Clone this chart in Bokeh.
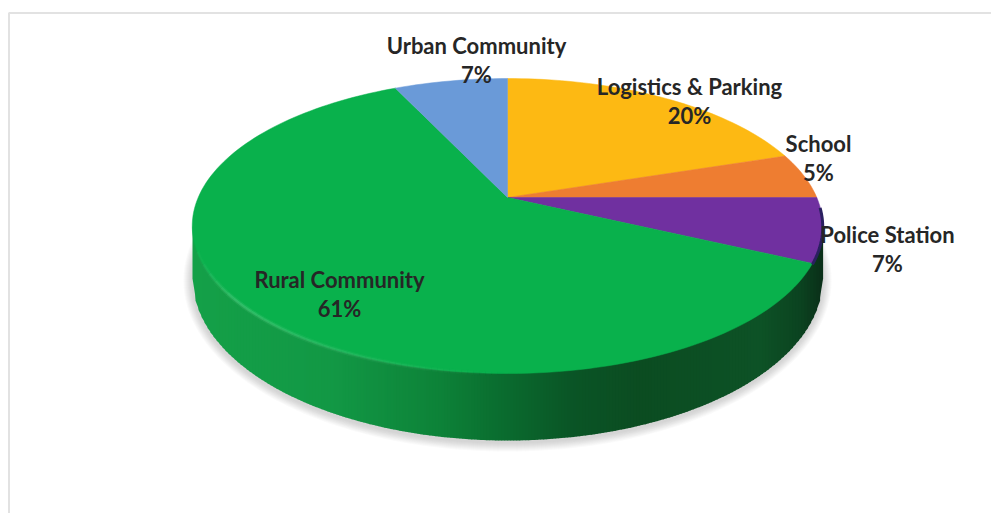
import math
from bokeh.plotting import figure
from bokeh.models import Range1d
from bokeh.core.properties import value
from bokeh.embed import file_html
from bokeh.resources import INLINE

categories = ["Logistics & Parking", "School", "Police Station", "Rural Community", "Urban Community"]
shares = [20, 5, 7, 61, 7]
colors = ["#FDB913", "#EE7D31", "#7030A0", "#09B14C", "#6A9AD8"]
label_xy = [(689, 86), (818, 143), (887, 234), (339, 279), (476, 45)]

W, H = 991, 513
p = figure(width=W, height=H, output_backend="svg", toolbar_location=None,
           x_range=Range1d(0, W), y_range=Range1d(H, 0), min_border=0,
           background_fill_color="white", border_fill_color="white")
p.axis.visible = False
p.grid.visible = False
p.outline_line_color = None

CX, APEX_Y = 507, 197
RX, TOP_CY, TOP_RY = 315, 225, 148
LOW_CY, LOW_RY = 278, 162
# projective mapping of the round pie to the tilted view
C = -57 / 295
A = 119 * (1 - C)
D = 309.3


def rim(theta_deg):
    t = math.radians(theta_deg)
    u, v = math.sin(t), -math.cos(t)
    den = 1 + C * v
    return CX + D * u / den, APEX_Y + A * v / den


def upper_y(x):
    s = max(0.0, 1 - ((x - CX) / RX) ** 2)
    return TOP_CY + TOP_RY * math.sqrt(s)


def lower_y(x):
    s = max(0.0, 1 - ((x - CX) / RX) ** 2)
    return LOW_CY + LOW_RY * math.sqrt(s)


def lerp_color(stops, x):
    for (x0, c0), (x1, c1) in zip(stops, stops[1:]):
        if x <= x1:
            f = (x - x0) / (x1 - x0)
            rgb = [round(int(c0[i:i + 2], 16) * (1 - f) + int(c1[i:i + 2], 16) * f) for i in (1, 3, 5)]
            return "#%02x%02x%02x" % tuple(rgb)
    return stops[-1][1]


# page frame: top and left rules only
p.line([8.5, 8.5, W], [H, 12.5, 12.5], line_color="#e2e2e2", line_width=2)

# soft shadow
for k in range(9, 0, -1):
    ts = [2 * math.pi * i / 240 for i in range(241)]
    p.patch([CX + (RX + k) * math.cos(t) for t in ts],
            [LOW_CY + 2 + (LOW_RY + k) * math.sin(t) for t in ts],
            fill_color="#777777", fill_alpha=0.035, line_color=None)

# side wall
stops = [(192, "#14A048"), (330, "#129845"), (440, "#0D8238"), (500, "#0A6D2F"),
         (570, "#0A5526"), (640, "#0B4C21"), (760, "#0D5226"), (800, "#0B4320"), (822, "#0A2F18")]
step = 3
xs, ys, cs = [], [], []
x = 192
while x < 822:
    x2 = min(x + step, 822)
    xs.append([x, x2 + 0.6, x2 + 0.6, x])
    ys.append([upper_y(x) - 1, upper_y(x2) - 1, lower_y(x2), lower_y(x)])
    cs.append(lerp_color(stops, (x + x2) / 2))
    x = x2
p.patches(xs, ys, fill_color=cs, line_color=None)

# top faces, one wedge per share, drawn from the shares
total = sum(shares)
angle = 0.0
bounds = []
for share, col in zip(shares, colors):
    a0, a1 = angle, angle + 360 * share / total
    n = max(6, int((a1 - a0) / 1.5))
    pts = [rim(a0 + (a1 - a0) * i / n) for i in range(n + 1)]
    p.patch([CX] + [q[0] for q in pts], [APEX_Y] + [q[1] for q in pts],
            fill_color=col, line_color=col, line_width=0.5)
    bounds.append((a0, a1))
    angle = a1

# dark wall of the police wedge seen at the right edge
a0, a1 = bounds[2]
front = [rim(a0 + (a1 - a0) * i / 20) for i in range(21)]
front = [q for q in front if q[1] > 205]
p.patch([q[0] for q in front] + [q[0] for q in reversed(front)],
        [q[1] + 1 for q in front] + [q[1] + 1 for q in reversed(front)],
        line_color="#2a2060", line_width=3, fill_color=None)

# pale highlight on the rim, fading in at the left and out at the front
hl_x = list(range(197, 500, 6))
for width, strength in ((5, 0.18), (2.5, 0.4)):
    for x0 in hl_x:
        x1 = x0 + 6
        al = strength * min(1, (x0 - 191) / 40) * (1 - (x0 - 197) / 310)
        p.line([x0, x1], [upper_y(x0), upper_y(x1)], line_color="#5FD08A", line_alpha=al, line_width=width)

# labels
for name, share, (lx, ly) in zip(categories, shares, label_xy):
    p.text([lx], [ly], text=[name], text_font=value("Lato"), text_font_size="22px",
           text_font_style="bold", text_color="#262626", text_align="center", text_baseline="middle")
    p.text([lx], [ly + 29], text=["%d%%" % share], text_font=value("Lato"), text_font_size="22px",
           text_font_style="bold", text_color="#262626", text_align="center", text_baseline="middle")

open("out.html", "w").write(file_html(p, INLINE))
